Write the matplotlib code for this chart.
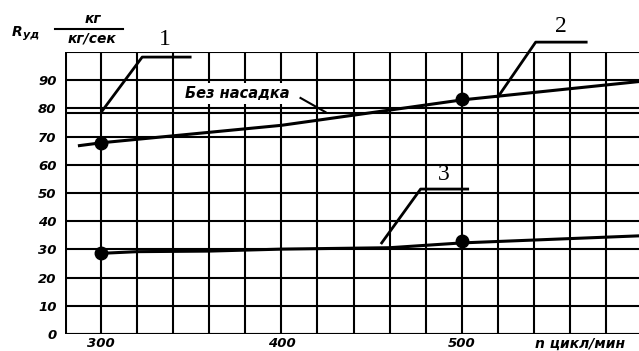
import matplotlib.pyplot as plt
import numpy as np

# readings
n_line2 = [288, 300, 400, 460, 500, 598]
r_line2 = [66.8, 67.8, 74.0, 79.4, 83.0, 89.5]
n_line3 = [300, 320, 360, 400, 460, 500, 598]
r_line3 = [28.6, 29.2, 29.4, 30.1, 30.6, 32.3, 34.8]
dots_n = [300, 500]
dots_r2 = [67.8, 83.3]
dots_r3 = [28.8, 33.0]
r_line1 = 78.3  # "без насадка"

x_ticks = [300, 400, 500]
y_ticks = [0, 10, 20, 30, 40, 50, 60, 70, 80, 90]

font = dict(family="DejaVu Sans", weight="bold", style="italic")

fig = plt.figure(figsize=(6.39, 3.51), dpi=100)
ax = fig.add_axes([65/639, 17/351, 1 - 65/639 + 0.002, 282/351])
ax.set_xlim(280, 599)
ax.set_ylim(0, 100)

for gx in np.arange(280, 600, 20):
    ax.axvline(gx, color="black", lw=1.5, zorder=1)
for gy in np.arange(0, 101, 10):
    ax.axhline(gy, color="black", lw=1.5, zorder=1)
ax.axvline(280, color="black", lw=2.2, zorder=1)
ax.axhline(0, color="black", lw=2.2, zorder=1)

ax.axhline(r_line1, color="black", lw=1.5, zorder=2)
ax.plot(n_line2, r_line2, color="black", lw=2.2, zorder=3)
ax.plot(n_line3, r_line3, color="black", lw=2.2, zorder=3)
ax.plot(dots_n, dots_r2, "o", color="black", ms=9, zorder=4)
ax.plot(dots_n, dots_r3, "o", color="black", ms=9, zorder=4)

for s in ax.spines.values():
    s.set_visible(False)
ax.set_xticks(x_ticks)
ax.set_xticklabels([str(v) for v in x_ticks], **font, fontsize=9.5)
ax.set_yticks(y_ticks)
ax.set_yticklabels([str(v) for v in y_ticks], **font, fontsize=9.5)
ax.tick_params(axis="x", length=0, pad=2)
ax.tick_params(axis="y", length=0, pad=6)

# "без насадка" label with white box
ax.text(375.6, 85.3, "Без насадка", ha="center", va="center", fontsize=10.5,
        bbox=dict(facecolor="white", edgecolor="none", pad=2), zorder=5, **font)
ax.plot([410.6, 424.4], [83.7, 78.7], color="black", lw=1.5, zorder=5)

# numbered leaders
leaders = {
    "1": ([300.6, 322.8, 349.4], [79.1, 98.2, 98.2], (335.6, 104.5)),
    "2": ([520.0, 541.0, 569.0], [84.0, 103.5, 103.5], (555.0, 109.0)),
    "3": ([455.6, 477.2, 503.3], [32.3, 51.4, 51.4], (490.0, 56.4)),
}
for lab, (lx, ly, pos) in leaders.items():
    ax.plot(lx, ly, color="black", lw=2.0, clip_on=False, zorder=5)
    ax.text(pos[0], pos[1], lab, ha="center", va="center", fontsize=17,
            family="Liberation Serif", clip_on=False)

# axis titles
fig.text(12/639, 1 - 32/351, "R", fontsize=10, ha="left", va="center", **font)
fig.text(23/639, 1 - 35/351, "уд", fontsize=8, ha="left", va="center", **font)
fig.text(93/639, 1 - 19/351, "кг", fontsize=10, ha="center", va="center", **font)
fig.add_artist(plt.Line2D([55/639, 123/639], [1 - 29/351, 1 - 29/351],
                          color="black", lw=1.5))
fig.text(92/639, 1 - 39/351, "кг/сек", fontsize=10, ha="center", va="center", **font)
fig.text(580/639, 1 - 344/351, "n цикл/мин", fontsize=10, ha="center", va="center", **font)

fig.savefig("out.png", dpi=100, facecolor="white")
